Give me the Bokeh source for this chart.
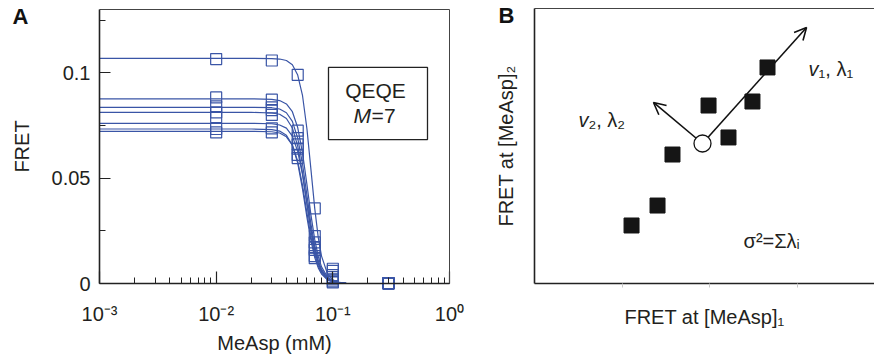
from bokeh.plotting import figure
from bokeh.layouts import row
from bokeh.models import (FixedTicker, Label, BoxAnnotation, Arrow, OpenHead,
                          LinearAxis, LogAxis)
from bokeh.embed import file_html
from bokeh.resources import INLINE

# ---------------- data: panel A ----------------
conc_pts = [0.01, 0.03, 0.05, 0.07, 0.1, 0.3]
pts_1 = [0.1065, 0.1058, 0.0990, 0.0356, 0.0070, 0.0002]
pts_2 = [0.0883, 0.0872, 0.0725, 0.0225, 0.0060, 0.0002]
pts_3 = [0.0840, 0.0836, 0.0690, 0.0195, 0.0040, 0.0001]
pts_4 = [0.0812, 0.0823, 0.0660, 0.0170, 0.0030, 0.0001]
pts_5 = [0.0789, 0.0800, 0.0640, 0.0160, 0.0020, 0.0001]
pts_6 = [0.0733, 0.0736, 0.0610, 0.0130, 0.0010, 0.0000]
pts_7 = [0.0717, 0.0717, 0.0595, 0.0120, 0.0005, 0.0000]

conc_fit = [0.001, 0.02, 0.03, 0.035, 0.04, 0.045, 0.05, 0.055, 0.06,
            0.065, 0.07, 0.075, 0.08, 0.09, 0.1, 0.11, 0.13, 1.0]
fit_1 = [0.1068, 0.1068, 0.1067, 0.1065, 0.1058, 0.1038, 0.0989, 0.0891, 0.0733,
         0.0538, 0.0355, 0.0218, 0.0130, 0.0046, 0.0017, 0.0007, 0.0001, 0.0]
fit_2 = [0.0876, 0.0876, 0.0874, 0.0868, 0.0852, 0.0815, 0.0740, 0.0619, 0.0469,
         0.0323, 0.0208, 0.0129, 0.0079, 0.0031, 0.0013, 0.0006, 0.0001, 0.0]
fit_3 = [0.0836, 0.0836, 0.0834, 0.0828, 0.0810, 0.0769, 0.0690, 0.0566, 0.0418,
         0.0281, 0.0178, 0.0109, 0.0067, 0.0026, 0.0011, 0.0005, 0.0001, 0.0]
fit_4 = [0.0812, 0.0812, 0.0809, 0.0803, 0.0783, 0.0738, 0.0652, 0.0524, 0.0377,
         0.0248, 0.0154, 0.0094, 0.0057, 0.0022, 0.0009, 0.0004, 0.0001, 0.0]
fit_5 = [0.0760, 0.0760, 0.0758, 0.0752, 0.0737, 0.0699, 0.0627, 0.0515, 0.0380,
         0.0256, 0.0162, 0.0099, 0.0061, 0.0023, 0.0010, 0.0004, 0.0001, 0.0]
fit_6 = [0.0733, 0.0733, 0.0730, 0.0723, 0.0703, 0.0657, 0.0571, 0.0448, 0.0314,
         0.0202, 0.0123, 0.0074, 0.0045, 0.0017, 0.0007, 0.0003, 0.0001, 0.0]
fit_7 = [0.0722, 0.0722, 0.0720, 0.0714, 0.0696, 0.0656, 0.0580, 0.0466, 0.0335,
         0.0220, 0.0137, 0.0083, 0.0050, 0.0019, 0.0008, 0.0004, 0.0001, 0.0]

x_major = [0.001, 0.01, 0.1, 1.0]
x_labels = ["10\u207b\u00b3", "10\u207b\u00b2", "10\u207b\u00b9", "10\u2070"]
y_major = [0.0, 0.05, 0.1]
y_labels = ["0", "0.05", "0.1"]
y_minor = [0.025, 0.075, 0.125]

# ---------------- data: panel B ----------------
b_x = [1.109, 1.406, 1.577, 1.989, 2.217, 2.491, 2.663]
b_y = [0.663, 0.891, 1.474, 2.034, 1.669, 2.080, 2.469]
centroid_x = [1.920]
centroid_y = [1.600]
vec_tip_x = [3.109, 1.360]
vec_tip_y = [2.926, 2.069]

FONT = "Liberation Sans"
BLUE = "#3a55a6"
TXT = "#231f20"
FS = "20px"

# ================= Panel A (whole canvas is the frame; axes at fixed places) ======
pA = figure(x_axis_type="log", x_range=(10 ** -3.8486, 10 ** 0.2486),
            y_range=(-0.036058, 0.134270),
            frame_width=478, frame_height=359, min_border=0,
            output_backend="svg", toolbar_location=None)
pA.grid.visible = False
pA.outline_line_color = None

fits = [fit_1, fit_2, fit_3, fit_4, fit_5, fit_6, fit_7]
pts = [pts_1, pts_2, pts_3, pts_4, pts_5, pts_6, pts_7]
for f in fits:
    pA.line(conc_fit, f, line_color=BLUE, line_width=1.2)
for s in pts:
    pA.scatter(conc_pts, s, marker="square", size=11, fill_color=None,
               line_color=BLUE, line_width=1.2)

xa = pA.xaxis[0]
xa.fixed_location = 0.0
xa.bounds = (x_major[0], x_major[-1])
xa.ticker = FixedTicker(ticks=x_major,
                        minor_ticks=[m * 10.0 ** e for e in (-3, -2, -1) for m in range(2, 10)])
xa.major_label_overrides = {t: s for t, s in zip(x_major, x_labels)}
ya = pA.yaxis[0]
ya.fixed_location = x_major[0]
ya.bounds = (0.0, 0.13)
ya.ticker = FixedTicker(ticks=y_major, minor_ticks=y_minor)
ya.major_label_overrides = {t: s for t, s in zip(y_major, y_labels)}
for ax, mj in ((xa, 12), (ya, 11)):
    ax.major_tick_in = mj
    ax.major_tick_out = 0
    ax.minor_tick_in = 6
    ax.minor_tick_out = 0
    ax.axis_line_width = 1.6
    ax.axis_line_color = "#222222"
    ax.major_tick_line_color = "#222222"
    ax.minor_tick_line_color = "#222222"
    ax.major_tick_line_width = 1.2
    ax.minor_tick_line_width = 1.0
    ax.major_label_text_font = FONT
    ax.major_label_text_font_size = FS
    ax.major_label_text_color = TXT
    ax.axis_label_text_font = FONT
    ax.axis_label_text_font_size = FS
    ax.axis_label_text_font_style = "normal"
    ax.axis_label_text_color = TXT
xa.axis_label = "MeAsp (mM)"
ya.axis_label = "FRET"
xa.major_label_standoff = 19
xa.axis_label_standoff = 4
ya.major_label_standoff = 9
ya.axis_label_standoff = 16

# thin top and right frame lines
topA = LogAxis(fixed_location=0.13, bounds=(x_major[0], x_major[-1]),
               ticker=FixedTicker(ticks=[]), axis_line_color="#444444", axis_line_width=1)
rightA = LinearAxis(fixed_location=x_major[-1], bounds=(0.0, 0.13),
                    ticker=FixedTicker(ticks=[]), axis_line_color="#444444", axis_line_width=1)
pA.add_layout(topA, "above")
pA.add_layout(rightA, "right")

pA.add_layout(BoxAnnotation(left=0.0918, right=0.6478, bottom=0.0683, top=0.1025,
                            fill_color="white", fill_alpha=1.0,
                            line_color="#222222", line_alpha=1.0, line_width=1.3))


def lab(p, x, y, t, style="normal", size=FS, align="left", color=TXT):
    p.add_layout(Label(x=x, y=y, text=t, text_align=align, text_baseline="middle",
                       text_font=FONT, text_font_size=size, text_font_style=style,
                       text_color=color))


lab(pA, 0.2321, 0.09157, "QEQE", size="21px", align="center")
lab(pA, 0.2124, 0.07985, "M", size="21px", align="right", style="italic")
lab(pA, 0.2150, 0.07985, "=7", size="21px")
lab(pA, 10 ** -3.7457, 0.12649, "A", size="22px", style="bold", color="#111111")

# ================= Panel B =================
pB = figure(x_range=(-0.64, 3.8857), y_range=(-0.8686, 3.2343),
            frame_width=396, frame_height=359, min_border=0,
            output_backend="svg", toolbar_location=None)
pB.grid.visible = False
pB.outline_line_color = None

bx = pB.xaxis[0]
bx.fixed_location = 0.0
bx.bounds = (0.0, 3.977)
bx.ticker = FixedTicker(ticks=[], minor_ticks=[1, 2, 3])
bx.minor_tick_in = 0
bx.minor_tick_out = 4
bx.minor_tick_line_color = "#c8c8c8"
bx.axis_line_width = 1.6
bx.axis_line_color = "#222222"
bx.axis_label = "FRET at [MeAsp]\u2081"
bx.axis_label_standoff = 18
by = pB.yaxis[0]
by.fixed_location = 0.0
by.bounds = (0.0, 3.1429)
by.ticker = FixedTicker(ticks=[])
by.axis_line_width = 1.6
by.axis_line_color = "#222222"
by.axis_label = "FRET at [MeAsp]\u2082"
by.axis_label_standoff = 18
for ax in (bx, by):
    ax.axis_label_text_font = FONT
    ax.axis_label_text_font_size = FS
    ax.axis_label_text_font_style = "normal"
    ax.axis_label_text_color = TXT
topB = LinearAxis(fixed_location=3.1429, bounds=(0.0, 3.977),
                  ticker=FixedTicker(ticks=[]), axis_line_color="#444444", axis_line_width=1)
pB.add_layout(topB, "above")

for tx, ty in zip(vec_tip_x, vec_tip_y):
    pB.add_layout(Arrow(end=OpenHead(size=12, line_width=1.6, line_color="#111111"),
                        x_start=centroid_x[0], y_start=centroid_y[0], x_end=tx, y_end=ty,
                        line_width=1.6, line_color="#111111", level="underlay"))
pB.scatter(b_x, b_y, marker="square", size=15, fill_color="#151515", line_color="#151515")
pB.scatter(centroid_x, centroid_y, marker="circle", size=17, fill_color="white",
           line_color="#111111", line_width=1.3)

lab(pB, 3.131, 2.446, "v", style="italic")
lab(pB, 3.246, 2.446, "\u2081, \u03bb\u2081")
lab(pB, 0.503, 1.863, "v", style="italic")
lab(pB, 0.617, 1.863, "\u2082, \u03bb\u2082")
lab(pB, 2.389, 0.480, "\u03c3\u00b2=\u03a3\u03bb\u1d62")
lab(pB, -0.411, 3.058, "B", size="22px", style="bold", color="#111111")

layout = row(pA, pB)
open("out.html", "w").write(file_html(layout, INLINE))
